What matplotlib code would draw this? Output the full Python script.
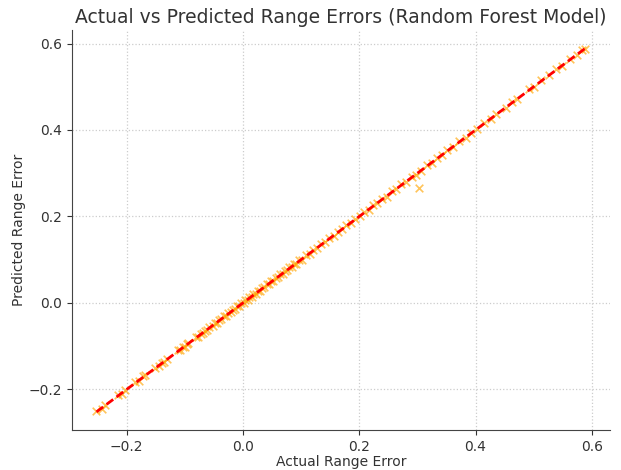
import matplotlib.pyplot as plt

# Actual vs predicted range errors
actual = [-0.252, -0.243, -0.238, -0.215, -0.208, -0.203, -0.185, -0.178, -0.172, -0.168,
          -0.152, -0.145, -0.140, -0.135, -0.131, -0.112, -0.108, -0.104, -0.100, -0.097,
          -0.094, -0.081, -0.077, -0.073, -0.069, -0.066, -0.062, -0.058, -0.052, -0.048,
          -0.045, -0.041, -0.037, -0.033, -0.029, -0.025, -0.021, -0.018, -0.014, -0.010,
          -0.006, -0.003, 0.001, 0.004, 0.008, 0.011, 0.015, 0.018, 0.022, 0.026,
          0.029, 0.033, 0.037, 0.041, 0.044, 0.048, 0.052, 0.056, 0.060, 0.064,
          0.068, 0.072, 0.076, 0.080, 0.084, 0.088, 0.092, 0.097, 0.101, 0.108,
          0.115, 0.121, 0.128, 0.134, 0.141, 0.148, 0.156, 0.163, 0.171, 0.178,
          0.186, 0.193, 0.201, 0.208, 0.216, 0.224, 0.231, 0.239, 0.247, 0.256,
          0.264, 0.272, 0.281, 0.290, 0.298, 0.302, 0.307, 0.316, 0.325, 0.333,
          0.342, 0.351, 0.362, 0.372, 0.383, 0.392, 0.403, 0.414, 0.427, 0.436,
          0.452, 0.463, 0.472, 0.492, 0.501, 0.513, 0.527, 0.538, 0.549, 0.563,
          0.574, 0.583, 0.589]
predicted = [-0.249, -0.245, -0.236, -0.213, -0.210, -0.201, -0.183, -0.180, -0.170, -0.166,
             -0.150, -0.147, -0.138, -0.137, -0.129, -0.110, -0.109, -0.102, -0.101, -0.095,
             -0.092, -0.079, -0.078, -0.071, -0.070, -0.064, -0.063, -0.056, -0.053, -0.046,
             -0.046, -0.039, -0.038, -0.031, -0.030, -0.023, -0.022, -0.016, -0.015, -0.008,
             -0.007, -0.001, 0.000, 0.006, 0.007, 0.013, 0.014, 0.020, 0.021, 0.028,
             0.028, 0.035, 0.036, 0.043, 0.043, 0.050, 0.051, 0.058, 0.059, 0.066,
             0.067, 0.074, 0.075, 0.082, 0.083, 0.090, 0.091, 0.099, 0.100, 0.110,
             0.114, 0.123, 0.127, 0.136, 0.140, 0.150, 0.155, 0.165, 0.170, 0.180,
             0.185, 0.195, 0.200, 0.210, 0.215, 0.226, 0.230, 0.241, 0.246, 0.258,
             0.263, 0.274, 0.280, 0.292, 0.297, 0.265, 0.306, 0.318, 0.324, 0.335,
             0.341, 0.353, 0.361, 0.374, 0.382, 0.394, 0.402, 0.416, 0.426, 0.438,
             0.451, 0.465, 0.471, 0.494, 0.500, 0.515, 0.526, 0.540, 0.548, 0.565,
             0.573, 0.585, 0.588]

text_color = "#333333"

fig, ax = plt.subplots(figsize=(6.21, 4.7), dpi=100)
fig.subplots_adjust(left=0.116, right=0.982, bottom=0.085, top=0.936)

ax.scatter(actual, predicted, marker="x", color="orange", alpha=0.65, s=30, linewidths=1.2)
lo, hi = min(actual), max(actual)
ax.plot([lo, hi], [lo, hi], color="red", linestyle="--", linewidth=2, dashes=(3, 1.5))

ax.set_title("Actual vs Predicted Range Errors (Random Forest Model)", fontsize=13.5,
             color=text_color, pad=5)
ax.set_xlabel("Actual Range Error", fontsize=10, color=text_color, labelpad=1)
ax.set_ylabel("Predicted Range Error", fontsize=10, color=text_color, labelpad=2)
ax.set_xticks([-0.2, 0.0, 0.2, 0.4, 0.6])
ax.set_yticks([-0.2, 0.0, 0.2, 0.4, 0.6])
ax.tick_params(colors=text_color, labelsize=10)

ax.spines["top"].set_visible(False)
ax.spines["right"].set_visible(False)
for side in ["left", "bottom"]:
    ax.spines[side].set_color("#444444")

ax.grid(True, linestyle=":", color="#cccccc", linewidth=0.9)
ax.set_axisbelow(True)

fig.savefig("out.png", dpi=100)
